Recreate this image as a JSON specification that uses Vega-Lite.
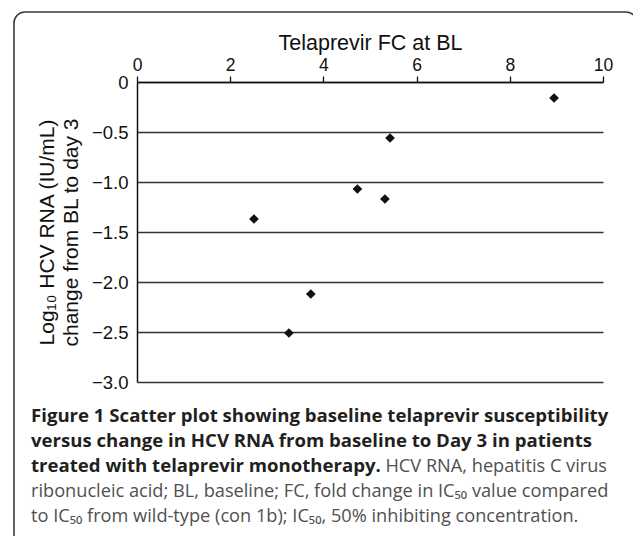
{
  "$schema": "https://vega.github.io/schema/vega-lite/v6.json",
  "width": 623,
  "height": 534,
  "autosize": {"type": "none"},
  "padding": {"left": 14, "top": 12, "right": 0, "bottom": 0},
  "background": "white",
  "config": {
    "view": {"stroke": "#3a3a3a", "strokeWidth": 1.6, "cornerRadius": 11},
    "font": "Liberation Sans"
  },
  "datasets": {
    "points": [
      {"fc": 2.51, "change": -1.37},
      {"fc": 3.26, "change": -2.51},
      {"fc": 3.73, "change": -2.12},
      {"fc": 4.73, "change": -1.07},
      {"fc": 5.32, "change": -1.17},
      {"fc": 5.43, "change": -0.56},
      {"fc": 8.95, "change": -0.16}
    ],
    "caption": [
      {"line": 1, "part": "heading", "text": "Figure 1 Scatter plot showing baseline telaprevir susceptibility"},
      {"line": 2, "part": "heading", "text": "versus change in HCV RNA from baseline to Day 3 in patients"},
      {"line": 3, "part": "heading", "text": "treated with telaprevir monotherapy."},
      {"line": 3, "part": "body", "text": "HCV RNA, hepatitis C virus"},
      {"line": 4, "part": "body", "text": "ribonucleic acid; BL, baseline; FC, fold change in IC₅₀ value compared"},
      {"line": 5, "part": "body", "text": "to IC₅₀ from wild-type (con 1b); IC₅₀, 50% inhibiting concentration."}
    ]
  },
  "layer": [
    {
      "data": {"name": "points"},
      "mark": {"type": "point", "shape": "diamond", "filled": true, "size": 95, "color": "#111111", "opacity": 1},
      "encoding": {
        "x": {
          "field": "fc", "type": "quantitative",
          "scale": {"domain": [0, 10], "range": [123, 589], "nice": false, "zero": false},
          "axis": {
            "orient": "top", "offset": -70, "values": [0, 2, 4, 6, 8, 10], "grid": false,
            "domainColor": "#111111", "domainWidth": 1.5,
            "tickColor": "#111111", "tickWidth": 1.3, "tickSize": 6,
            "labelFontSize": 17.5, "labelColor": "#111111", "labelPadding": 2, "labelFlush": false,
            "title": "Telaprevir FC at BL", "titleFontSize": 21.5, "titleFontWeight": "normal",
            "titleColor": "#111111", "titlePadding": 2
          }
        },
        "y": {
          "field": "change", "type": "quantitative",
          "scale": {"domain": [-3, 0], "range": [370, 70], "nice": false, "zero": false},
          "axis": {
            "orient": "left", "offset": -123, "values": [0, -0.5, -1, -1.5, -2, -2.5, -3],
            "grid": true, "gridColor": "#333333", "gridWidth": 1.3, "gridOpacity": 1,
            "domainColor": "#111111", "domainWidth": 1.5, "ticks": false,
            "labelPadding": 9, "labelFontSize": 18.5, "labelColor": "#111111", "labelOverlap": false,
            "labelExpr": "datum.value === 0 ? '0' : format(datum.value, '.1f')",
            "title": ["Log₁₀ HCV RNA (IU/mL)", "change from BL to day 3"],
            "titleFontSize": 21, "titleFontWeight": "normal", "titleColor": "#111111",
            "titlePadding": 10, "titleLineHeight": 24
          }
        }
      }
    },
    {
      "data": {"name": "caption"},
      "transform": [{"filter": "datum.part === 'heading'"}],
      "mark": {"type": "text", "align": "left", "baseline": "alphabetic", "font": "Open Sans", "fontWeight": "bold", "fontSize": 18.6, "color": "#231f20"},
      "encoding": {
        "x": {"datum": 0, "type": "quantitative", "scale": {"domain": [0, 1], "range": [17, 593]}, "axis": null},
        "y": {"field": "line", "type": "quantitative", "scale": {"domain": [1, 5], "range": [410, 510]}, "axis": null},
        "text": {"field": "text"}
      }
    },
    {
      "data": {"name": "caption"},
      "transform": [{"filter": "datum.part === 'body' && datum.line === 3"}],
      "mark": {"type": "text", "align": "right", "baseline": "alphabetic", "font": "Open Sans", "fontWeight": 400, "fontSize": 18.2, "color": "#505050"},
      "encoding": {
        "x": {"datum": 1, "type": "quantitative", "scale": {"domain": [0, 1], "range": [17, 593]}, "axis": null},
        "y": {"field": "line", "type": "quantitative", "scale": {"domain": [1, 5], "range": [410, 510]}, "axis": null},
        "text": {"field": "text"}
      }
    },
    {
      "data": {"name": "caption"},
      "transform": [{"filter": "datum.part === 'body' && datum.line > 3"}],
      "mark": {"type": "text", "align": "left", "baseline": "alphabetic", "font": "Open Sans", "fontWeight": 400, "fontSize": 18.2, "color": "#505050"},
      "encoding": {
        "x": {"datum": 0, "type": "quantitative", "scale": {"domain": [0, 1], "range": [17, 593]}, "axis": null},
        "y": {"field": "line", "type": "quantitative", "scale": {"domain": [1, 5], "range": [410, 510]}, "axis": null},
        "text": {"field": "text"}
      }
    }
  ],
  "resolve": {"scale": {"x": "independent", "y": "independent"}}
}
